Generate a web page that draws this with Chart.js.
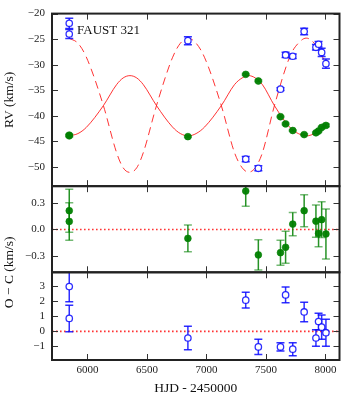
<!DOCTYPE html>
<html>
<head>
<meta charset="utf-8">
<script src="https://cdn.jsdelivr.net/npm/chart.js@4.4.0/dist/chart.umd.min.js"></script>
<style>
  html, body { margin: 0; padding: 0; background: #fff; }
  #wrap { position: relative; width: 347px; height: 400px; }
</style>
</head>
<body>
<div id="wrap"><canvas id="rvChart" width="347" height="400"></canvas></div>
<script>
// epochs (HJD - 2450000), both stars measured on the same spectra
const obsHJD = [5847, 5847, 6844, 7330, 7436, 7622, 7665, 7725, 7821, 7920, 7942, 7968, 8004];

// primary (green, filled) and secondary (blue, open) radial velocities, km/s
const rvPrimary   = [-43.8, -43.95, -44.1, -31.9, -33.2, -40.2, -41.6, -42.9, -43.7, -43.35, -43.0, -42.3, -41.9];
const errPrimary  = [0.24, 0.21, 0.15, 0.17, 0.17, 0.14, 0.18, 0.13, 0.18, 0.18, 0.15, 0.2, 0.28];
const rvSecondary = [-21.9, -24.0, -25.3, -48.5, -50.3, -34.8, -28.1, -28.35, -23.5, -26.6, -26.0, -27.6, -29.8];
const errSecondary = [1.0, 0.88, 0.78, 0.52, 0.5, 0.27, 0.52, 0.43, 0.65, 0.55, 0.55, 0.8, 0.9];

// residuals O - C
const ocPrimary   = [0.21, 0.09, -0.10, 0.43, -0.285, -0.26, -0.20, 0.06, 0.21, 0.093, -0.044, 0.11, -0.05];
const ocSecondary = [2.97, 0.86, -0.44, 2.07, -1.03, -1.03, 2.42, -1.18, 1.29, -0.44, 0.65, 0.28, -0.09];

// orbit model
const modelHJD = [5847, 5920, 5990, 6133, 6245, 6300, 6357, 6414, 6469, 6581, 6714, 6781, 6847, 6913, 6985,
                  7124, 7236, 7300, 7355, 7410, 7470, 7572, 7705, 7772, 7838, 7920, 8004];
const modelPrimary = [-43.95, -43.5, -42.3, -38.05, -33.9, -32.6, -32.15, -32.6, -33.9, -38.05, -42.2, -43.5, -43.95, -43.5, -42.2,
                      -38.05, -33.9, -32.6, -32.15, -32.6, -33.9, -38.05, -42.4, -43.5, -43.95, -43.35, -41.8];
const modelSecondary = [-24.85, -25.8, -28.5, -37.95, -47.25, -50.2, -51.1, -50.2, -47.25, -37.95, -28.65, -25.8, -24.85, -25.8, -28.65,
                        -37.95, -47.25, -50.2, -51.05, -50.2, -47.25, -37.95, -28.2, -25.8, -24.8, -26.2, -29.8];

// ticks
const xTicks = [6000, 6500, 7000, 7500, 8000];
const rvTicks = [-50, -45, -40, -35, -30, -25, -20];
const ocPrimTicks = [-0.3, 0.0, 0.3];
const ocSecTicks = [-1, 0, 1, 2, 3];

const SERIF = "'Liberation Serif', 'DejaVu Serif', serif";
Chart.defaults.font.family = SERIF;
Chart.defaults.color = '#222';

const fmtMinus = s => s.replace('-', '\u2212');
const pts = (xs, ys) => xs.map((x, i) => ({ x: x, y: ys[i] }));

const GREEN = 'rgba(0,128,0,0.95)';
const BLUE = 'rgba(10,10,255,0.85)';
const RED = 'rgba(255,0,0,0.8)';

function greenSet(data, yAxisID, errs) {
    return {
        data: data, yAxisID: yAxisID, order: 1,
        pointRadius: 3.4, pointBackgroundColor: GREEN, pointBorderColor: 'rgba(0,128,0,0.6)', pointBorderWidth: 1,
        errorBars: errs, barColor: 'rgba(0,128,0,0.85)', capColor: 'rgba(0,128,0,0.55)'
    };
}
function blueSet(data, yAxisID, errs) {
    return {
        data: data, yAxisID: yAxisID, order: 1,
        pointRadius: 3.2, pointBackgroundColor: '#fff', pointBorderColor: BLUE, pointBorderWidth: 1.3,
        errorBars: errs, barColor: BLUE, capColor: BLUE
    };
}

const panelPlugin = {
    id: 'panels',
    beforeDatasetsDraw(chart) {
        const { ctx, chartArea: a } = chart;
        ['yOCp', 'yOCs'].forEach(id => {
            const y = chart.scales[id].getPixelForValue(0);
            ctx.save();
            ctx.strokeStyle = RED;
            ctx.lineWidth = 1.6;
            ctx.setLineDash([1.6, 2.4]);
            ctx.beginPath(); ctx.moveTo(a.left, y); ctx.lineTo(a.right, y); ctx.stroke();
            ctx.restore();
        });
    },
    beforeDatasetDraw(chart, args) {
        const { ctx, chartArea: a } = chart;
        const ys = args.meta.yScale, xs = args.meta.xScale;
        ctx.save();
        ctx.beginPath();
        ctx.rect(a.left, ys.top, a.right - a.left, ys.bottom - ys.top);
        ctx.clip();
        const ds = chart.data.datasets[args.index];
        if (!ds.errorBars) return;
        ctx.lineWidth = 1.5;
        ds.data.forEach((p, i) => {
            const px = xs.getPixelForValue(p.x);
            const y1 = ys.getPixelForValue(p.y - ds.errorBars[i]);
            const y2 = ys.getPixelForValue(p.y + ds.errorBars[i]);
            ctx.strokeStyle = ds.barColor;
            ctx.beginPath(); ctx.moveTo(px, y1); ctx.lineTo(px, y2); ctx.stroke();
            ctx.strokeStyle = ds.capColor;
            ctx.beginPath();
            ctx.moveTo(px - 4, y1); ctx.lineTo(px + 4, y1);
            ctx.moveTo(px - 4, y2); ctx.lineTo(px + 4, y2);
            ctx.stroke();
        });
    },
    afterDatasetDraw(chart) {
        chart.ctx.restore();
    },
    afterDraw(chart) {
        const { ctx, chartArea: a } = chart;
        const xs = chart.scales.x;
        ctx.save();
        ['yRV', 'yOCp', 'yOCs'].forEach(id => {
            const s = chart.scales[id];
            ctx.strokeStyle = '#333';
            ctx.lineWidth = 1;
            ctx.beginPath();
            xTicks.forEach(v => {
                const px = Math.round(xs.getPixelForValue(v)) + 0.5;
                ctx.moveTo(px, s.top); ctx.lineTo(px, s.top + 6);
                ctx.moveTo(px, s.bottom); ctx.lineTo(px, s.bottom - 6);
            });
            s.ticks.forEach(t => {
                const py = Math.round(s.getPixelForValue(t.value)) + 0.5;
                ctx.moveTo(a.left, py); ctx.lineTo(a.left + 6, py);
                ctx.moveTo(a.right, py); ctx.lineTo(a.right - 6, py);
            });
            ctx.stroke();
            ctx.strokeStyle = '#222';
            ctx.lineWidth = 2;
            ctx.strokeRect(a.left, s.top, a.right - a.left, s.bottom - s.top);
        });

        const rv = chart.scales.yRV, ocp = chart.scales.yOCp;
        ctx.fillStyle = '#111';
        ctx.textAlign = 'center';
        ctx.textBaseline = 'middle';
        ctx.font = '13.5px ' + SERIF;
        ctx.save(); ctx.translate(9.5, (rv.top + rv.bottom) / 2); ctx.rotate(-Math.PI / 2);
        ctx.fillText('RV (km/s)', 0, 0); ctx.restore();
        ctx.save(); ctx.translate(9.5, ocp.bottom); ctx.rotate(-Math.PI / 2);
        ctx.fillText('O \u2212 C (km/s)', 0, 0); ctx.restore();
        ctx.fillText('HJD - 2450000', (a.left + a.right) / 2, 388);

        ctx.textAlign = 'left';
        ctx.font = '13px ' + SERIF;
        ctx.fillText('FAUST 321', a.left + 25, rv.top + 17);
        ctx.restore();
    }
};

function yAxis(min, max, tickList, weight, stackWeight, fmt) {
    return {
        type: 'linear', position: 'left', stack: 'panels', stackWeight: stackWeight, weight: weight,
        min: min, max: max,
        afterBuildTicks: s => { s.ticks = tickList.map(v => ({ value: v })); },
        afterFit: s => { s.width = 52; },
        grid: { display: false, drawTicks: false },
        border: { display: false },
        ticks: { padding: 7, font: { size: 11 }, color: '#222', autoSkip: false, callback: fmt }
    };
}

new Chart(document.getElementById('rvChart'), {
    type: 'scatter',
    data: {
        datasets: [
            { data: pts(modelHJD, modelPrimary), yAxisID: 'yRV', order: 5, showLine: true, pointRadius: 0,
              borderColor: RED, borderWidth: 1, cubicInterpolationMode: 'monotone' },
            { data: pts(modelHJD, modelSecondary), yAxisID: 'yRV', order: 5, showLine: true, pointRadius: 0,
              borderColor: RED, borderWidth: 1, borderDash: [8, 5], cubicInterpolationMode: 'monotone' },
            greenSet(pts(obsHJD, rvPrimary), 'yRV', errPrimary),
            blueSet(pts(obsHJD, rvSecondary), 'yRV', errSecondary),
            greenSet(pts(obsHJD, ocPrimary), 'yOCp', errPrimary),
            blueSet(pts(obsHJD, ocSecondary), 'yOCs', errSecondary)
        ]
    },
    options: {
        responsive: false,
        animation: false,
        devicePixelRatio: 1,
        layout: { padding: { top: 7, right: 7.5, bottom: 0, left: 0 } },
        plugins: { legend: { display: false }, tooltip: { enabled: false } },
        scales: {
            x: {
                type: 'linear', position: 'bottom', min: 5702, max: 8118,
                afterBuildTicks: s => { s.ticks = xTicks.map(v => ({ value: v })); },
                afterFit: s => { s.height = 40; },
                grid: { display: false, drawTicks: false },
                border: { display: false },
                ticks: { padding: 4, font: { size: 11 }, color: '#222', maxRotation: 0, autoSkip: false, callback: v => String(v) }
            },
            yRV: yAxis(-53.8, -20, rvTicks, 3, 175.7, v => fmtMinus(String(v))),
            yOCp: yAxis(-0.48, 0.485, ocPrimTicks, 2, 87.7, v => fmtMinus(v.toFixed(1))),
            yOCs: yAxis(-1.9, 3.92, ocSecTicks, 1, 89.3, v => fmtMinus(String(v)))
        }
    },
    plugins: [panelPlugin]
});
</script>
</body>
</html>
